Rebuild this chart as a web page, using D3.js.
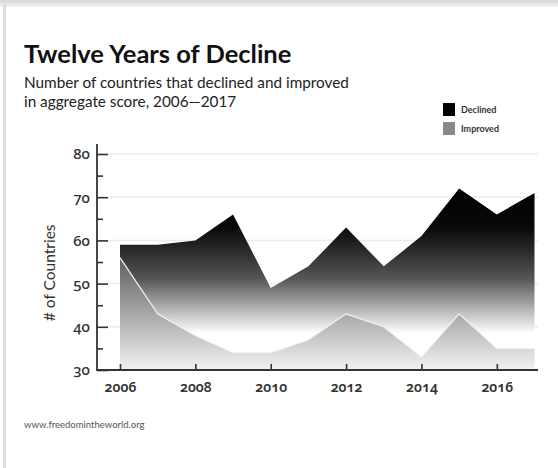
<!DOCTYPE html>
<html>
<head>
<meta charset="utf-8">
<script src="https://cdn.jsdelivr.net/npm/d3@7"></script>
<style>
  body { margin: 0; background: #fff; }
  svg { display: block; font-family: Lato, "Open Sans", sans-serif; }
  .tick text { font-family: "Noto Sans", Lato, sans-serif; font-feature-settings: "onum" 1; font-variant-numeric: oldstyle-nums; }
</style>
</head>
<body>
<div id="chart"></div>
<script>
// chart data
var years = [2006, 2007, 2008, 2009, 2010, 2011, 2012, 2013, 2014, 2015, 2016, 2017];
var declined = [59, 59, 60, 66, 49, 54, 63, 54, 61, 72, 66, 71];
var improved = [56, 43, 38, 34, 34, 37, 43, 40, 33, 43, 35, 35];
var yTicks = [30, 40, 50, 60, 70, 80];
var yMinorTicks = [35, 45, 55, 65, 75];
var xTicks = [2006, 2008, 2010, 2012, 2014, 2016];
var seriesNames = ["Declined", "Improved"];

var svgWidth = 558;
var svgHeight = 468;

var margin = { top: 154, right: 20, bottom: 98, left: 97 };

var svg = d3.select("#chart")
  .append("svg")
  .attr("width", svgWidth)
  .attr("height", svgHeight);

var defs = svg.append("defs");

// card frame: shadow at the top and a grey edge on the left
var topShade = defs.append("linearGradient")
  .attr("id", "topShade")
  .attr("x1", 0).attr("y1", 0).attr("x2", 0).attr("y2", 1);
topShade.append("stop").attr("offset", 0).attr("stop-color", "#d6d6d6");
topShade.append("stop").attr("offset", 1).attr("stop-color", "#f4f4f4");

svg.append("rect")
  .attr("x", 0).attr("y", 0)
  .attr("width", svgWidth).attr("height", 7)
  .attr("fill", "url(#topShade)");

svg.append("rect")
  .attr("x", 3).attr("y", 5)
  .attr("width", 3).attr("height", svgHeight)
  .attr("fill", "#dcdcdc");

// scales
var xScale = d3.scaleLinear()
  .domain([2006, 2017])
  .range([120, 534.5]);

var yScale = d3.scaleLinear()
  .domain([30, 80])
  .range([svgHeight - margin.bottom, margin.top]);

// gradients for the two areas
var gradDeclined = defs.append("linearGradient")
  .attr("id", "gradDeclined")
  .attr("gradientUnits", "userSpaceOnUse")
  .attr("x1", 0).attr("x2", 0)
  .attr("y1", yScale(72)).attr("y2", yScale(38.5));
gradDeclined.append("stop").attr("offset", 0).attr("stop-color", "#000");
gradDeclined.append("stop").attr("offset", 0.28).attr("stop-color", "#0a0a0a");
gradDeclined.append("stop").attr("offset", 0.62).attr("stop-color", "#555");
gradDeclined.append("stop").attr("offset", 1).attr("stop-color", "#fff");

var gradImproved = defs.append("linearGradient")
  .attr("id", "gradImproved")
  .attr("gradientUnits", "userSpaceOnUse")
  .attr("x1", 0).attr("x2", 0)
  .attr("y1", yScale(56)).attr("y2", yScale(30));
gradImproved.append("stop").attr("offset", 0).attr("stop-color", "#5e5e5e");
gradImproved.append("stop").attr("offset", 1).attr("stop-color", "#f2f2f2");

// gridlines
svg.append("g")
  .selectAll("line")
  .data(yTicks.slice(1))
  .enter()
  .append("line")
  .attr("x1", 108)
  .attr("x2", 538)
  .attr("y1", d => yScale(d))
  .attr("y2", d => yScale(d))
  .attr("stroke", "#ececec")
  .attr("stroke-width", 1.5);

// areas
var declinedArea = d3.area()
  .x((d, i) => xScale(years[i]))
  .y0(yScale(30))
  .y1(d => yScale(d));

svg.append("path")
  .datum(declined)
  .attr("d", declinedArea)
  .attr("fill", "url(#gradDeclined)");

svg.append("path")
  .datum(improved)
  .attr("d", declinedArea)
  .attr("fill", "url(#gradImproved)");

svg.append("path")
  .datum(improved)
  .attr("d", d3.line().x((d, i) => xScale(years[i])).y(d => yScale(d)))
  .attr("fill", "none")
  .attr("stroke", "#f4f4f4")
  .attr("stroke-width", 1.2);

// y axis
var leftAxis = d3.axisLeft(yScale)
  .tickValues(yTicks)
  .tickSizeInner(-11)
  .tickSizeOuter(0)
  .tickPadding(7);

var yAxisGroup = svg.append("g")
  .attr("transform", `translate(${margin.left}, 0)`)
  .call(leftAxis);
yAxisGroup.select(".domain").remove();
yAxisGroup.selectAll("line").attr("stroke", "#333").attr("stroke-width", 1.6);
yAxisGroup.selectAll("text")
  .attr("font-size", 15)
  .attr("font-weight", 500)
  .attr("fill", "#333");

var minorAxis = d3.axisLeft(yScale)
  .tickValues(yMinorTicks)
  .tickSizeInner(-6)
  .tickSizeOuter(0)
  .tickFormat("");

var minorGroup = svg.append("g")
  .attr("transform", `translate(${margin.left}, 0)`)
  .call(minorAxis);
minorGroup.select(".domain").remove();
minorGroup.selectAll("line").attr("stroke", "#333").attr("stroke-width", 1.6);

// x axis
var bottomAxis = d3.axisBottom(xScale)
  .tickValues(xTicks)
  .tickFormat(d3.format("d"))
  .tickSizeInner(-6)
  .tickSizeOuter(0)
  .tickPadding(12);

var xAxisGroup = svg.append("g")
  .attr("transform", `translate(0, ${yScale(30)})`)
  .call(bottomAxis);
xAxisGroup.select(".domain").remove();
xAxisGroup.selectAll("line").attr("stroke", "#333").attr("stroke-width", 1.6);
xAxisGroup.selectAll("text")
  .attr("font-size", 14)
  .attr("font-weight", 600)
  .attr("fill", "#333");

// axis lines
svg.append("path")
  .attr("d", `M${margin.left},${yScale(80) - 10}V${yScale(30)}H538`)
  .attr("fill", "none")
  .attr("stroke", "#333")
  .attr("stroke-width", 1.8);

// axis label
svg.append("text")
  .attr("transform", `translate(55, ${yScale(52.5)}) rotate(-90)`)
  .style("text-anchor", "middle")
  .attr("font-size", 15.5)
  .attr("fill", "#333")
  .text("# of Countries");

// titles
svg.append("text")
  .attr("x", 24)
  .attr("y", 63)
  .attr("font-size", 25.5)
  .attr("font-weight", "bold")
  .attr("fill", "#111")
  .text("Twelve Years of Decline");

svg.append("text")
  .attr("x", 24)
  .attr("y", 88)
  .attr("font-size", 15.3)
  .attr("fill", "#222")
  .text("Number of countries that declined and improved");

svg.append("text")
  .attr("x", 24)
  .attr("y", 107)
  .attr("font-size", 15.3)
  .attr("fill", "#222")
  .text("in aggregate score, 2006\u20142017");

// legend
var legendColors = ["#000", "#888"];
var legend = svg.append("g")
  .selectAll("g")
  .data(seriesNames)
  .enter()
  .append("g")
  .attr("transform", (d, i) => `translate(443, ${103 + i * 19})`);

legend.append("rect")
  .attr("width", 12)
  .attr("height", 13)
  .attr("fill", (d, i) => legendColors[i]);

legend.append("text")
  .attr("x", 18)
  .attr("y", 10)
  .attr("font-size", 9)
  .attr("font-weight", "bold")
  .attr("fill", "#333")
  .text(d => d);

// source
svg.append("text")
  .attr("x", 24)
  .attr("y", 428)
  .attr("font-size", 9.5)
  .attr("fill", "#555")
  .text("www.freedomintheworld.org");
</script>
</body>
</html>
